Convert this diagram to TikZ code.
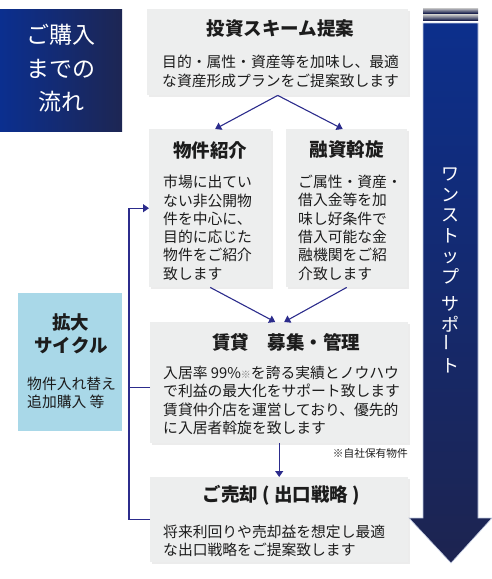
\documentclass[tikz,border=0pt]{standalone}
\usepackage{fontspec}
\setmainfont{Noto Sans CJK JP}
\usepackage{tikz}
\usetikzlibrary{arrows.meta,positioning,calc,shadows}
\definecolor{CardGray}{HTML}{EDEEEE}
\definecolor{Ink}{HTML}{1C1C1C}
\definecolor{FlowBlue}{HTML}{2C2C8C}
\definecolor{TitleLeft}{HTML}{0B2F8F}
\definecolor{TitleRight}{HTML}{1D2653}
\definecolor{CycleBlue}{HTML}{A9D8E8}
\definecolor{ArrowTop}{HTML}{0C2F8C}
\definecolor{ArrowBot}{HTML}{1D2450}

\begin{document}
\begin{tikzpicture}[x=1pt,y=-1pt,>={Triangle[length=6pt,width=8pt]},
  card/.style={fill=CardGray,anchor=north west,inner sep=0pt,
    drop shadow={shadow xshift=2pt,shadow yshift=-2pt,opacity=0.15}},
  head/.style={font=\fontsize{18.5}{22}\selectfont\bfseries,text=Ink},
  body/.style={font=\fontsize{14.8}{18.3}\selectfont,text=Ink,align=left,anchor=north west,inner sep=0pt},
  flow/.style={->,draw=FlowBlue,line width=1.1pt}]
  \useasboundingbox (0,0) rectangle (492,579);

  \shade[top color=ArrowTop,bottom color=ArrowBot,draw=white!75!ArrowTop,line width=0.6pt]
    (423,23) -- (478,23) -- (478,518) -- (492,518) -- (451,563) -- (409,518) -- (423,518) -- cycle;
  \shade[top color=gray!45,bottom color=ArrowBot] (423,8) rectangle (478,13);
  \shade[top color=gray!45,bottom color=ArrowBot] (423,14.5) rectangle (478,20);
  \node[anchor=north,text=white,align=center,inner sep=0pt,font=\fontsize{18}{20.5}\selectfont] (support) at (450,168)
    {ワ\\ン\\ス\\ト\\ッ\\プ\\[7pt]サ\\ポ\\\rotatebox{90}{ー}\\ト};

  \node[anchor=north west,minimum width=122pt,minimum height=122pt,inner sep=0pt,
    left color=TitleLeft,right color=TitleRight] (title) at (0,9) {};
  \node[text=white,align=center,font=\fontsize{23}{33.5}\selectfont] at ($(title.center)+(0,-2)$) {ご購入\\までの\\流れ};

  \node[card,minimum width=261pt,minimum height=86pt] (s1) at (147,9) {};
  \node[head] at ($(s1.north)+(3,20)$) {投資スキーム提案};
  \node[body] at (162,55) {目的・属性・資産等を加味し、最適\\な資産形成プランをご提案致します};

  \node[card,minimum width=122pt,minimum height=158pt] (s2) at (149,129) {};
  \node[head] at ($(s2.north)+(0,21)$) {物件紹介};
  \node[body] at (163,175) {市場に出てい\\ない非公開物\\件を中心に、\\目的に応じた\\物件をご紹介\\致します};

  \node[card,minimum width=121pt,minimum height=158pt] (s3) at (286,129) {};
  \node[head] at ($(s3.north)+(0,21)$) {融資斡旋};
  \node[body] at (298,175) {ご属性・資産・\\借入金等を加\\味し好条件で\\借入可能な金\\融機関をご紹\\介致します};

  \node[card,minimum width=258pt,minimum height=121pt] (s4) at (150,322) {};
  \node[head] at ($(s4.north)+(7,20)$) {賃貸　募集・管理};
  \node[body] at (163,366) {入居率 99\%{\color{gray}\fontsize{10}{10}\selectfont ※}を誇る実績とノウハウ\\で利益の最大化をサポート致します\\賃貸仲介店を運営しており、優先的\\に入居者斡旋を致します};
  \node[anchor=east,inner sep=0pt,text=Ink,font=\fontsize{10.7}{12}\selectfont] (note) at (408,453) {※自社保有物件};

  \node[card,minimum width=258pt,minimum height=85pt] (s5) at (150,477) {};
  \node[head] at ($(s5.north)+(2,18)$) {ご売却 ( 出口戦略 )};
  \node[body] at (163,525) {将来利回りや売却益を想定し最適\\な出口戦略をご提案致します};

  \node[anchor=north west,minimum width=104pt,minimum height=138pt,inner sep=0pt,fill=CycleBlue] (cycle) at (18,293) {};
  \node[head,align=center,font=\fontsize{18.5}{23}\selectfont\bfseries] at (71,334) {拡大\\サイクル};
  \node[body] at (27,377) {物件入れ替え\\追加購入 等};

  \draw[flow] (s1.south) -- ([xshift=5pt]s2.north);
  \draw[flow] (s1.south) -- ([xshift=-4pt]s3.north);
  \draw[flow] (s2.south) -- ([xshift=-4pt]s4.north);
  \draw[flow] (s3.south) -- ([xshift=5pt]s4.north);
  \draw[flow] (s4.south) -- (s5.north);

  \coordinate (loopx) at (129,0);
  \draw[flow] (s5.west) -- (s5.west -| loopx) |- (s2.west);
  \draw[draw=FlowBlue,line width=1.1pt] ([yshift=-5pt]s4.west) -- ([yshift=-5pt]s4.west -| loopx);
\end{tikzpicture}
\end{document}
